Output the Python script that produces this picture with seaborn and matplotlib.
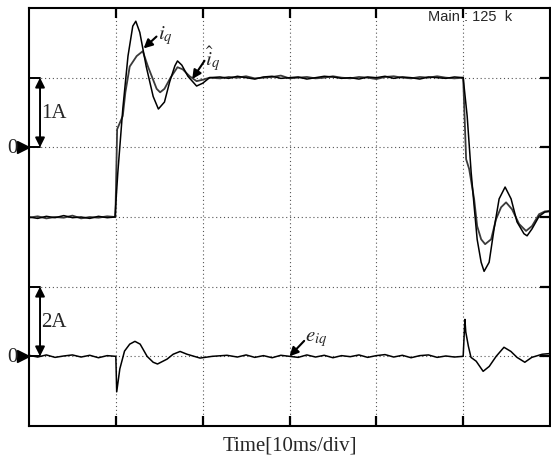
import numpy as np
import pandas as pd
import seaborn as sns
import matplotlib.pyplot as plt

# time in ms (10 ms/div), currents in A
t_iq = [0, 1, 2, 3, 4, 5, 6, 7, 8, 9, 9.9,
        10.23, 10.8, 11.4, 11.95, 12.3, 12.76, 13.5, 14.3, 14.9, 15.6, 16.2,
        16.8, 17.1, 17.6, 18.3, 19.3, 20.0, 20.8,
        22, 23, 24, 25, 26, 27, 28, 29, 30, 31, 32, 33, 34, 35, 36, 37, 38,
        39, 40, 41, 42, 43, 44, 45, 46, 47, 48, 49,
        50.0, 50.46, 50.92, 51.26, 51.61, 52.07, 52.41, 52.99, 53.56, 54.14,
        54.83, 55.52, 56.2, 57.0, 57.36, 57.93, 58.74, 59.4, 60.0]
iq = [-1.00, -1.02, -0.99, -1.01, -0.98, -1.01, -1.00, -1.02, -0.99, -1.01, -1.00,
      -0.36, 0.55, 1.31, 1.74, 1.81, 1.65, 1.16, 0.73, 0.55, 0.65, 0.94,
      1.17, 1.24, 1.18, 1.02, 0.88, 0.92, 1.00,
      1.01, 0.99, 1.02, 1.00, 0.98, 1.01, 1.02, 0.99, 1.00, 1.01, 0.98, 1.00,
      1.02, 1.01, 0.99, 1.00, 0.98, 1.01, 1.00, 1.02, 0.99, 1.01, 1.00, 0.98,
      1.01, 1.00, 0.99, 1.01,
      1.00, 0.45, -0.36, -0.84, -1.32, -1.65, -1.78, -1.65, -1.17, -0.74,
      -0.57, -0.74, -1.07, -1.24, -1.27, -1.17, -0.99, -0.93, -0.92]

t_iq_hat = [0, 1, 2, 3, 4, 5, 6, 7, 8, 9, 9.95,
            10.15, 10.8, 11.1, 11.6, 12.4, 13.1, 13.7, 14.7, 15.1, 15.6, 16.3,
            17.1, 17.7, 18.5, 19.3, 20.0, 20.8,
            22, 23, 24, 25, 26, 27, 28, 29, 30, 31, 32, 33, 34, 35, 36, 37, 38,
            39, 40, 41, 42, 43, 44, 45, 46, 47, 48, 49,
            50.0, 50.34, 50.69, 51.26, 51.61, 52.07, 52.53, 53.22, 53.79, 54.37,
            54.94, 55.63, 56.44, 57.24, 57.93, 58.74, 59.4, 60.0]
iq_hat = [-1.01, -0.99, -1.02, -1.00, -1.01, -0.98, -1.02, -1.00, -1.01, -0.99, -1.00,
          0.26, 0.45, 0.79, 1.16, 1.31, 1.38, 1.16, 0.84, 0.79, 0.84, 1.00,
          1.15, 1.12, 1.02, 0.95, 0.97, 1.00,
          0.99, 1.01, 1.00, 1.02, 0.99, 1.00, 1.01, 1.03, 0.99, 1.00, 1.01, 0.99,
          1.00, 1.02, 1.00, 0.99, 1.01, 1.00, 0.98, 1.01, 1.02, 1.00, 0.99, 1.01,
          1.00, 1.02, 1.00, 0.99,
          1.00, -0.17, -0.31, -0.74, -1.13, -1.32, -1.39, -1.32, -1.03, -0.86,
          -0.79, -0.89, -1.10, -1.20, -1.13, -0.96, -0.92, -0.91]

t_e = [0, 1, 2, 3, 4, 5, 6, 7, 8, 9, 10.0,
       10.1, 10.46, 11.0, 11.6, 12.2, 12.8, 13.6, 14.3, 14.8, 15.9, 16.6,
       17.4, 18.2, 19.7, 21.1, 22.8,
       24, 25, 26, 27, 28, 29, 30, 31, 32, 33, 34, 35, 36, 37, 38, 39, 40,
       41, 42, 43, 44, 45, 46, 47, 48, 49,
       50.0, 50.2, 50.3, 50.6, 50.9, 51.5, 52.3, 53.0, 53.8, 54.7, 55.5,
       56.2, 57.1, 57.9, 59.1, 60.0]
e_iq = [0.03, -0.02, 0.04, -0.03, 0.01, 0.04, -0.02, 0.03, -0.04, 0.02, 0.00,
        -1.02, -0.36, 0.15, 0.35, 0.43, 0.35, 0.00, -0.17, -0.22, -0.08, 0.06,
        0.14, 0.06, -0.05, 0.00, 0.03,
        -0.02, 0.04, -0.03, 0.02, -0.04, 0.03, 0.00, -0.03, 0.04, -0.02, 0.03,
        -0.04, 0.02, -0.01, 0.04, -0.03, 0.02, 0.05, -0.02, 0.03, -0.04, 0.02,
        0.04, -0.03, 0.01, -0.02,
        0.00, 1.06, 0.70, 0.29, -0.03, -0.14, -0.43, -0.29, 0.00, 0.26, 0.14,
        -0.03, -0.17, -0.03, 0.06, 0.08]

upper_zero, upper_scale = 4, 1.0   # 1 A/div
lower_zero, lower_scale = 1, 2.0   # 2 A/div

sns.set_style("white")
plt.rcParams["font.family"] = ["Liberation Serif", "DejaVu Serif"]
plt.rcParams["mathtext.fontset"] = "stix"

fig = plt.figure(figsize=(5.51, 4.56), dpi=100)
ax = fig.add_axes([29 / 551, 1 - 427 / 456, 521 / 551, 418 / 456])

df_up = pd.DataFrame({"t": t_iq, "y": np.array(iq) / upper_scale + upper_zero})
df_hat = pd.DataFrame({"t": t_iq_hat, "y": np.array(iq_hat) / upper_scale + upper_zero})
df_e = pd.DataFrame({"t": t_e, "y": np.array(e_iq) / lower_scale + lower_zero})

sns.lineplot(data=df_hat, x="t", y="y", ax=ax, color="#3a3a3a", lw=1.3)
sns.lineplot(data=df_up, x="t", y="y", ax=ax, color="black", lw=1.1)
sns.lineplot(data=df_e, x="t", y="y", ax=ax, color="black", lw=1.1)

ax.set_xlim(0, 60)
ax.set_ylim(0, 6)
ax.set_xticks([10, 20, 30, 40, 50])
ax.set_yticks([1, 2, 3, 4, 5])
ax.set_xticklabels([])
ax.set_yticklabels([])
ax.set_ylabel("")
ax.set_xlabel("Time[10ms/div]", fontsize=15, labelpad=3)
ax.grid(True, color="#555555", lw=0.8, linestyle=(0, (1, 2.5)))
ax.tick_params(axis="x", direction="in", top=True, bottom=True, length=7,
               width=1.6, color="black")
ax.tick_params(axis="y", direction="in", left=False, right=True, length=7,
               width=1.6, color="black")
for s in ax.spines.values():
    s.set_color("black")
    s.set_linewidth(1.5)

# scale bars and zero markers
xb = 1.27
for z, lab in [(upper_zero, "1A"), (lower_zero, "2A")]:
    ax.annotate("", xy=(xb, z + 1), xytext=(xb, z),
                arrowprops=dict(arrowstyle="<|-|>", color="black", lw=1.4,
                                mutation_scale=14, shrinkA=0, shrinkB=0))
    ax.plot([0, xb], [z + 1, z + 1], color="black", lw=1.4)
    ax.plot([0, xb], [z, z], color="black", lw=1.4)
    ax.text(1.45, z + 0.5, lab, fontsize=15, ha="left", va="center")
    ax.text(-1.3, z, "0", fontsize=15, ha="right", va="center", clip_on=False)
    ax.plot([-0.65], [z], marker=">", color="black", markersize=8, clip_on=False)

arrow = dict(arrowstyle="-|>", color="black", lw=1.5, mutation_scale=13,
             shrinkA=1, shrinkB=0, patchA=None, relpos=(0.0, 0.45))
ax.annotate("$i_q$", xy=(13.2, 5.42), xytext=(14.8, 5.62), fontsize=15,
            ha="left", va="center", arrowprops=arrow)
ax.annotate(r"$\hat{i}_q$", xy=(18.8, 4.98), xytext=(20.3, 5.28), fontsize=15,
            ha="left", va="center", arrowprops=arrow)
ax.annotate("$e_{iq}$", xy=(30.0, 1.0), xytext=(31.8, 1.25), fontsize=15,
            ha="left", va="center", arrowprops=arrow)

ax.text(45.9, 5.88, "Main : 125  k", fontsize=10.5, family="Liberation Sans",
        ha="left", va="center")

fig.savefig("out.png", dpi=100)
plt.close(fig)
